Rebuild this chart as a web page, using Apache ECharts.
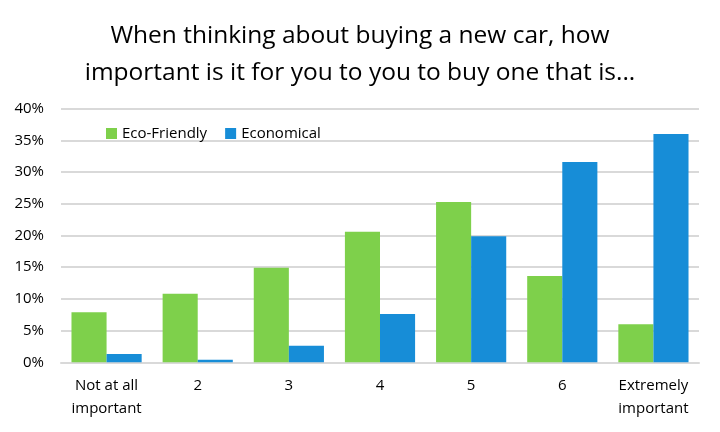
<!DOCTYPE html>
<html>
<head>
<meta charset="utf-8">
<script src="https://cdn.jsdelivr.net/npm/echarts@6/dist/echarts.min.js"></script>
<style>html,body{margin:0;padding:0;background:#fff}#c{width:720px;height:432px}</style>
</head>
<body>
<div id="c"></div>
<script>
const categories = ['Not at all\nimportant', '2', '3', '4', '5', '6', 'Extremely\nimportant'];
const ecoFriendly = [7.9, 10.8, 14.9, 20.6, 25.3, 13.6, 6.0];
const economical = [1.3, 0.4, 2.6, 7.6, 19.9, 31.6, 36.0];
const seriesNames = ['Eco-Friendly', 'Economical'];
const titleText = 'When thinking about buying a new car, how\nimportant is it for you to you to buy one that is...';

const font = 'Open Sans';
const chart = echarts.init(document.getElementById('c'));
chart.setOption({
  animation: false,
  title: {
    text: titleText,
    left: 'center',
    top: 13,
    textStyle: {fontFamily: font, fontSize: 24.5, fontWeight: 'normal', color: '#000', lineHeight: 37}
  },
  legend: {
    data: seriesNames,
    left: 101,
    top: 121,
    itemWidth: 11,
    itemHeight: 11,
    itemGap: 18,
    icon: 'rect',
    textStyle: {fontFamily: font, fontSize: 15, color: '#000'}
  },
  grid: {left: 61, right: 21, top: 108.7, bottom: 69.7, containLabel: false},
  xAxis: {
    type: 'category',
    data: categories,
    axisLine: {show: true, lineStyle: {color: '#D9D9D9', width: 2}},
    axisTick: {show: false},
    axisLabel: {fontFamily: font, fontSize: 15, color: '#000', lineHeight: 23, margin: 12, interval: 0}
  },
  yAxis: {
    type: 'value',
    min: 0,
    max: 40,
    interval: 5,
    axisLine: {show: false},
    axisTick: {show: false},
    splitLine: {lineStyle: {color: '#D9D9D9', width: 2}},
    axisLabel: {fontFamily: font, fontSize: 15, color: '#000', margin: 17, formatter: '{value}%'}
  },
  series: [
    {name: seriesNames[0], type: 'bar', data: ecoFriendly, itemStyle: {color: '#7ED04B'}, barGap: '0%', barCategoryGap: '23%'},
    {name: seriesNames[1], type: 'bar', data: economical, itemStyle: {color: '#178DD7'}, barGap: '0%', barCategoryGap: '23%'}
  ]
});
</script>
</body>
</html>
